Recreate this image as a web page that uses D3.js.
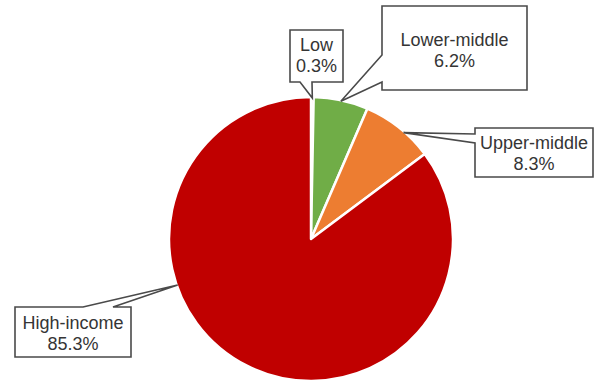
<!DOCTYPE html>
<html>
<head>
<meta charset="utf-8">
<script src="https://cdn.jsdelivr.net/npm/d3@7"></script>
<style>
  body { margin: 0; background: #fff; }
  svg { display: block; }
  .callout text { font-family: "Liberation Sans", Arial, sans-serif; font-size: 18px; fill: #353535; }
</style>
</head>
<body>
<div class="canvas"></div>
<script>
var width = 605, height = 383;

var categories = ["Low", "Lower-middle", "Upper-middle", "High-income"];
var values = [0.3, 6.2, 8.3, 85.3];
var colors = ["#c00000", "#70ad47", "#ed7d31", "#c00000"];

// callout placement (box x, y, w, h; side the pointer leaves from; pointer base; first text line y)
var callouts = [
  {box: [290, 30, 53, 52], side: "bottom", base: [300, 312], ty: 45},
  {box: [382, 6, 145, 84], side: "left", base: [55, 82], ty: 40},
  {box: [475, 128, 118, 49], side: "left", base: [134, 143], ty: 143, tipAngle: 41},
  {box: [15, 307, 116, 50], side: "top", base: [83, 113], ty: 323, tipAngle: 251}
];

var cx = 311, cy = 239, radius = 142;

var svg = d3.select(".canvas").append("svg")
    .attr("width", width)
    .attr("height", height);

var pie = d3.pie().sort(null).value(function(d) { return d; });
var arcs = pie(values);
var arc = d3.arc().innerRadius(0).outerRadius(radius);

var g = svg.append("g")
    .attr("transform", "translate(" + cx + "," + cy + ")");

g.selectAll(".slice")
    .data(arcs)
  .enter().append("path")
    .attr("class", "slice")
    .attr("d", arc)
    .attr("fill", function(d, i) { return colors[i]; })
    .attr("stroke", "#fff")
    .attr("stroke-width", 2.5)
    .attr("stroke-linejoin", "round");

function tipPoint(i) {
  var a = callouts[i].tipAngle != null ? callouts[i].tipAngle * Math.PI / 180
        : (arcs[i].startAngle + arcs[i].endAngle) / 2;
  var r = radius - 1;
  return [cx + r * Math.sin(a), cy - r * Math.cos(a)];
}

// rectangle with a pointer wedge on one side
function calloutPath(c, tip) {
  var x = c.box[0], y = c.box[1], w = c.box[2], h = c.box[3];
  var b = c.base, p;
  if (c.side === "bottom") {
    p = [[x, y], [x + w, y], [x + w, y + h], [b[1], y + h], tip, [b[0], y + h], [x, y + h]];
  } else if (c.side === "left") {
    p = [[x, y], [x + w, y], [x + w, y + h], [x, y + h], [x, b[1]], tip, [x, b[0]]];
  } else {
    p = [[x, y], [b[0], y], tip, [b[1], y], [x + w, y], [x + w, y + h], [x, y + h]];
  }
  return "M" + p.map(function(q) { return q[0] + "," + q[1]; }).join("L") + "Z";
}

var labels = svg.selectAll(".callout")
    .data(categories)
  .enter().append("g")
    .attr("class", "callout");

labels.append("path")
    .attr("d", function(d, i) { return calloutPath(callouts[i], tipPoint(i)); })
    .attr("fill", "#fff")
    .attr("stroke", "#4a4a4a")
    .attr("stroke-width", 1.6)
    .attr("stroke-linejoin", "miter");

labels.append("text")
    .attr("text-anchor", "middle")
    .attr("x", function(d, i) { return callouts[i].box[0] + callouts[i].box[2] / 2; })
    .attr("y", function(d, i) { return callouts[i].ty; })
    .attr("dominant-baseline", "central")
    .text(function(d) { return d; });

labels.append("text")
    .attr("text-anchor", "middle")
    .attr("x", function(d, i) { return callouts[i].box[0] + callouts[i].box[2] / 2; })
    .attr("y", function(d, i) { return callouts[i].ty + 21; })
    .attr("dominant-baseline", "central")
    .text(function(d, i) { return values[i].toFixed(1) + "%"; });
</script>
</body>
</html>
